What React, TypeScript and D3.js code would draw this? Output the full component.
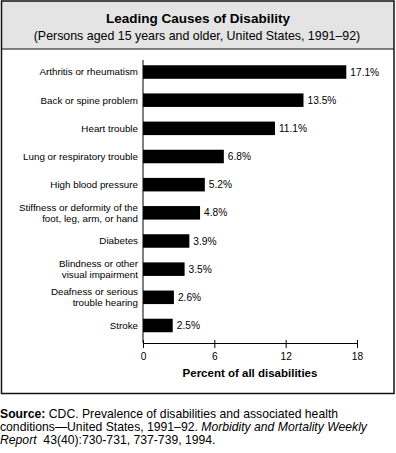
import React, { useEffect, useRef } from "react";
import * as d3 from "d3";

const categories = [
  ["Arthritis or rheumatism"],
  ["Back or spine problem"],
  ["Heart trouble"],
  ["Lung or respiratory trouble"],
  ["High blood pressure"],
  ["Stiffness or deformity of the", "foot, leg, arm, or hand"],
  ["Diabetes"],
  ["Blindness or other", "visual impairment"],
  ["Deafness or serious", "trouble hearing"],
  ["Stroke"],
];
const values = [17.1, 13.5, 11.1, 6.8, 5.2, 4.8, 3.9, 3.5, 2.6, 2.5];
const xTicks = [0, 6, 12, 18];

export default function App() {
  const svgRef = useRef<SVGSVGElement>(null);

  useEffect(() => {
    const W = 396;
    const H = 453;
    const font = "Liberation Sans, Arial, sans-serif";
    const svg = d3.select(svgRef.current);
    svg.selectAll("*").remove();
    svg.attr("width", W).attr("height", H).style("font-family", font);

    svg.append("rect").attr("width", W).attr("height", H).attr("fill", "#fff");

    // header band + frame
    svg.append("rect")
      .attr("x", 1.5).attr("y", 1).attr("width", 392.5).attr("height", 48)
      .attr("fill", "#e4e4e4");
    svg.append("line")
      .attr("x1", 1.5).attr("x2", 394).attr("y1", 49).attr("y2", 49)
      .attr("stroke", "#111").attr("stroke-width", 1.2);
    svg.append("rect")
      .attr("x", 1.5).attr("y", 1).attr("width", 392.5).attr("height", 392.5)
      .attr("fill", "none").attr("stroke", "#111").attr("stroke-width", 1.5);

    svg.append("text")
      .attr("x", 198).attr("y", 23)
      .attr("text-anchor", "middle")
      .attr("font-size", 13.5).attr("font-weight", "bold")
      .text("Leading Causes of Disability");
    svg.append("text")
      .attr("x", 197).attr("y", 40)
      .attr("text-anchor", "middle")
      .attr("font-size", 12.4)
      .text("(Persons aged 15 years and older, United States, 1991\u201392)");

    // scales
    const x = d3.scaleLinear().domain([0, 18]).range([143, 357]);
    const y = d3.scaleBand<number>()
      .domain(d3.range(values.length))
      .range([58.5, 339])
      .paddingInner(0.52)
      .paddingOuter(0.24);

    const g = svg.append("g");

    // bars
    g.selectAll("rect.bar")
      .data(values)
      .join("rect")
      .attr("class", "bar")
      .attr("x", x(0))
      .attr("y", (_, i) => y(i)!)
      .attr("width", d => x(d) - x(0))
      .attr("height", y.bandwidth())
      .attr("fill", "#000");

    // value labels
    g.selectAll("text.val")
      .data(values)
      .join("text")
      .attr("class", "val")
      .attr("x", d => x(d) + 4)
      .attr("y", (_, i) => y(i)! + y.bandwidth() / 2)
      .attr("dy", "0.35em")
      .attr("font-size", 10.2)
      .text(d => `${d.toFixed(1)}%`);

    // category labels
    const lh = 11.5;
    categories.forEach((lines, i) => {
      const cy = y(i)! + y.bandwidth() / 2;
      const t = g.append("text")
        .attr("x", 138)
        .attr("text-anchor", "end")
        .attr("font-size", 9.8);
      lines.forEach((ln, j) => {
        t.append("tspan")
          .attr("x", 138)
          .attr("y", cy + (j - (lines.length - 1) / 2) * lh)
          .attr("dy", "0.35em")
          .text(ln);
      });
    });

    // axes
    const axisY = 343;
    g.append("line")
      .attr("x1", x(0)).attr("x2", x(0)).attr("y1", 60).attr("y2", axisY)
      .attr("stroke", "#000").attr("stroke-width", 1);

    const xAxis = d3.axisBottom(x).tickValues(xTicks).tickSize(5).tickSizeOuter(0);
    const ax = g.append("g")
      .attr("transform", `translate(0,${axisY})`)
      .call(xAxis);
    ax.select(".domain").attr("stroke", "#000");
    ax.selectAll(".tick line").attr("stroke", "#000").attr("y1", -3).attr("y2", 5);
    ax.selectAll(".tick text")
      .attr("font-size", 10.2)
      .attr("font-family", font)
      .attr("fill", "#000")
      .attr("y", 10);

    g.append("text")
      .attr("x", (x(0) + x(18)) / 2).attr("y", 377)
      .attr("text-anchor", "middle")
      .attr("font-size", 11.5).attr("font-weight", "bold")
      .text("Percent of all disabilities");

    // source note
    const src = svg.append("text").attr("font-size", 12.2).attr("x", 0);
    const l1 = src.append("tspan").attr("x", 0).attr("y", 418);
    l1.append("tspan").attr("font-weight", "bold").text("Source:");
    l1.append("tspan").text(" CDC. Prevalence of disabilities and associated health");
    const l2 = src.append("tspan").attr("x", 0).attr("y", 431);
    l2.append("tspan").text("conditions\u2014United States, 1991\u201392. ");
    l2.append("tspan").attr("font-style", "italic").text("Morbidity and Mortality Weekly");
    const l3 = src.append("tspan").attr("x", 0).attr("y", 444);
    l3.append("tspan").attr("font-style", "italic").text("Report");
    l3.append("tspan").attr("xml:space", "preserve").text("\u00a0 43(40):730-731, 737-739, 1994.");
  }, []);

  return (
    <div style={{ position: "absolute", left: 0, top: 0 }}>
      <svg ref={svgRef} style={{ display: "block" }}></svg>
    </div>
  );
}
